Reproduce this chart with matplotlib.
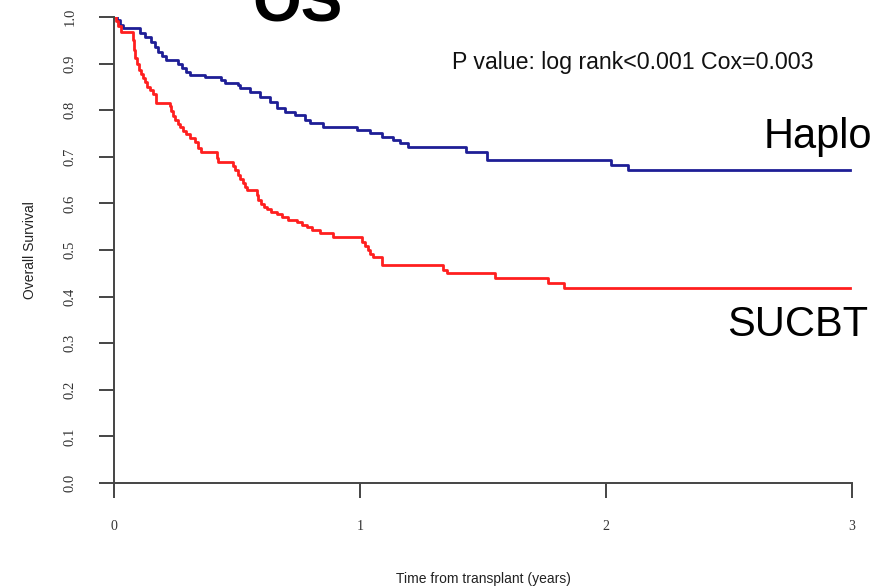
import numpy as np
import matplotlib
matplotlib.use('Agg')
import matplotlib.pyplot as plt

# Kaplan-Meier steps: (time in years, survival after the step)
haplo_t = [0, 0.012, 0.024, 0.037, 0.106, 0.126, 0.150, 0.167, 0.179, 0.195,
           0.211, 0.260, 0.276, 0.293, 0.309, 0.370, 0.435, 0.451, 0.504, 0.512,
           0.553, 0.593, 0.634, 0.663, 0.695, 0.736, 0.776, 0.797, 0.850, 0.988,
           1.041, 1.089, 1.134, 1.163, 1.195, 1.431, 1.516, 2.020, 2.089, 2.99]
haplo_s = [1.0, 0.994, 0.983, 0.976, 0.966, 0.957, 0.946, 0.936, 0.925, 0.916,
           0.908, 0.899, 0.891, 0.882, 0.876, 0.871, 0.865, 0.858, 0.854, 0.848,
           0.839, 0.828, 0.818, 0.805, 0.796, 0.790, 0.779, 0.773, 0.764, 0.758,
           0.751, 0.742, 0.736, 0.730, 0.721, 0.710, 0.693, 0.682, 0.672, 0.672]

sucbt_t = [0, 0.008, 0.016, 0.028, 0.077, 0.081, 0.085, 0.093, 0.102, 0.110,
           0.118, 0.126, 0.134, 0.146, 0.159, 0.171, 0.228, 0.232, 0.240, 0.248,
           0.260, 0.268, 0.280, 0.293, 0.309, 0.329, 0.341, 0.354, 0.419, 0.423,
           0.484, 0.492, 0.504, 0.512, 0.524, 0.533, 0.541, 0.581, 0.585, 0.598,
           0.610, 0.622, 0.638, 0.663, 0.683, 0.707, 0.744, 0.764, 0.785, 0.805,
           0.837, 0.890, 1.008, 1.020, 1.033, 1.041, 1.053, 1.089, 1.337, 1.354,
           1.549, 1.764, 1.829, 2.99]
sucbt_s = [1.0, 0.991, 0.981, 0.968, 0.951, 0.929, 0.912, 0.899, 0.886, 0.878,
           0.869, 0.861, 0.850, 0.843, 0.835, 0.816, 0.809, 0.798, 0.788, 0.779,
           0.770, 0.764, 0.755, 0.749, 0.740, 0.732, 0.719, 0.710, 0.697, 0.689,
           0.680, 0.672, 0.661, 0.652, 0.644, 0.635, 0.629, 0.618, 0.607, 0.598,
           0.592, 0.588, 0.582, 0.577, 0.571, 0.564, 0.560, 0.554, 0.549, 0.543,
           0.536, 0.528, 0.517, 0.509, 0.500, 0.491, 0.485, 0.468, 0.457, 0.451,
           0.440, 0.429, 0.418, 0.418]

x_ticks = [0, 1, 2, 3]
y_ticks = [0.0, 0.1, 0.2, 0.3, 0.4, 0.5, 0.6, 0.7, 0.8, 0.9, 1.0]

sans = 'Liberation Sans'
serif = 'Liberation Serif'
axcol = '#444444'

fig = plt.figure(figsize=(8.82, 5.87), dpi=100)
ax = fig.add_axes([114/882, 1 - 483/587, (852 - 114)/882, (483 - 17)/587])

ax.plot(haplo_t, haplo_s, drawstyle='steps-post', color='#1e1e96', lw=2)
ax.plot(sucbt_t, sucbt_s, drawstyle='steps-post', color='#ff1f1f', lw=2)

ax.set_xlim(0, 3)
ax.set_ylim(0, 1)
for s in ['top', 'right']:
    ax.spines[s].set_visible(False)
for s in ['left', 'bottom']:
    ax.spines[s].set_color(axcol)
    ax.spines[s].set_linewidth(1.4)
ax.spines['left'].set_bounds(0, 1)
ax.spines['bottom'].set_bounds(0, 3)

ax.set_xticks(x_ticks)
ax.set_xticklabels([str(v) for v in x_ticks], fontfamily=serif, fontsize=10)
ax.set_yticks(y_ticks)
ax.set_yticklabels(['%.1f' % v for v in y_ticks], fontfamily=serif, fontsize=10.5,
                   rotation=90, va='center')
ax.tick_params(axis='both', length=11, width=1.4, color=axcol, labelcolor='#333333')
ax.tick_params(axis='x', pad=16)
ax.tick_params(axis='y', pad=16)

ax.set_xlabel('Time from transplant (years)', fontfamily=sans, fontsize=10,
              color='#222222', labelpad=28)
ax.set_ylabel('Overall Survival', fontfamily=sans, fontsize=10,
              color='#222222', labelpad=19)

fig.text(298/882, 1 - 21/587, 'OS', fontfamily=sans, fontweight='bold',
         fontsize=45, ha='center', va='baseline')
fig.text(452/882, 1 - 62/587, 'P value: log rank<0.001 Cox=0.003',
         fontfamily=sans, fontsize=16.7, ha='left', va='center', color='#111111')
fig.text(872/882, 1 - 148/587, 'Haplo', fontfamily=sans, fontsize=30,
         ha='right', va='baseline')
fig.text(868/882, 1 - 336/587, 'SUCBT', fontfamily=sans, fontsize=30,
         ha='right', va='baseline')

fig.savefig('out.png', dpi=100)
